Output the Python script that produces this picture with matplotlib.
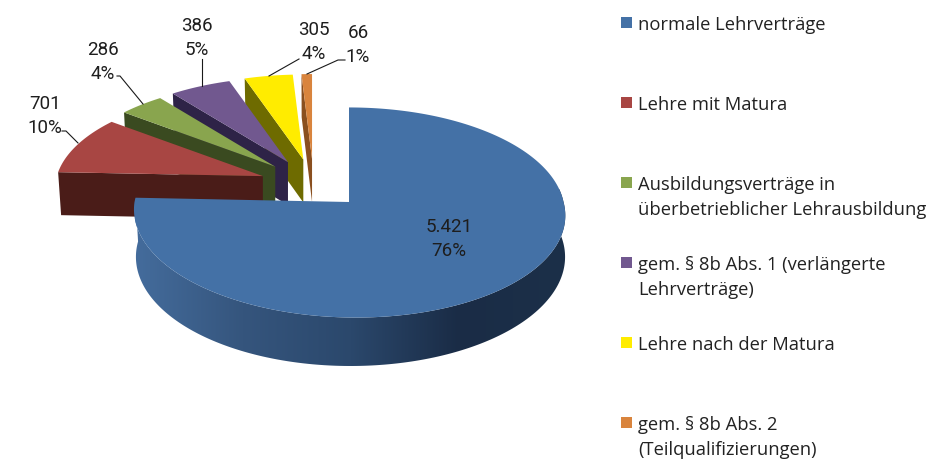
import numpy as np
import matplotlib
matplotlib.use('Agg')
import matplotlib.pyplot as plt
from matplotlib.colors import LinearSegmentedColormap
from matplotlib.patches import Rectangle, Polygon

plt.rcParams['font.family'] = ['Roboto', 'DejaVu Sans']

# data
categories = ['normale Lehrverträge', 'Lehre mit Matura',
              'Ausbildungsverträge in\nüberbetrieblicher Lehrausbildung',
              'gem. § 8b Abs. 1 (verlängerte\nLehrverträge)',
              'Lehre nach der Matura',
              'gem. § 8b Abs. 2\n(Teilqualifizierungen)']
values = [5421, 701, 286, 386, 305, 66]
colors = ['#4471A6', '#A84643', '#89A54E', '#71588F', '#FFEC00', '#D9843D']
side_colors = ['#1B2D48', '#4A1C18', '#3A4A20', '#2E2347', '#6E6B00', '#8A4F1F']

# layout of the fake 3d pie, in pixels
label_pos = [(449, 239), (45, 116), (103, 62), (197, 38), (314, 42), (358, 45)]
leaders = [None,
           [(62, 132), (66, 132), (78, 144)],
           [(117, 77), (120, 77), (143, 105)],
           [(202, 60), (202, 87)],
           [(299, 60), (269, 77)],
           [(345, 61), (338, 61), (307, 75)]]
legend_y = [24, 104, 184, 264, 344, 424]


def project(theta, cx, cy, rx, ry, k, shear=0.0):
    u = np.sin(theta)
    v = np.cos(theta)
    w = 1 / (1 + k * v)
    y = cy - ry * v * w
    # the front of the big slice leans a little to the right
    return cx + rx * u * w + shear * np.maximum(0, y - cy), y


fig = plt.figure(figsize=(9.28, 4.64), dpi=100)
ax = fig.add_axes([0, 0, 1, 1])

total = sum(values)
edges = np.radians(np.cumsum([0] + values) / total * 360)

# small slices are drawn back to front, red comes last
for i in range(len(values) - 1, 0, -1):
    a0, a1 = edges[i], edges[i + 1]
    mid = (a0 + a1) / 2
    ax_x = 313.6 + 54 * np.sin(mid)
    ax_y = 186 - 26 * np.cos(mid)
    th = np.linspace(a0, a1, 40)
    x, y = project(th, ax_x, ax_y, 206, 96, 0.13)
    xb, yb = project(a0, ax_x, ax_y + 43, 203, 96, 0.13)
    # the cut face that looks to the viewer
    ax.fill([ax_x, x[0], xb, ax_x], [ax_y, y[0], yb, ax_y + 43],
            color=side_colors[i], lw=0, zorder=2 * (7 - i))
    ax.fill(np.r_[ax_x, x], np.r_[ax_y, y], color=colors[i], lw=0, zorder=2 * (7 - i) + 1)

# big slice
th = np.linspace(np.radians(80), edges[1], 200)
xt, yt = project(th, 349, 203, 214.5, 104, 0.1, 0.06)
xb, yb = project(th, 350.5, 247, 213.5, 108, 0.1)
side = Polygon(np.c_[np.r_[xt, xb[::-1]], np.r_[yt, yb[::-1]]], closed=True,
               transform=ax.transData, lw=0, fc='none')
ax.add_patch(side)
cmap = LinearSegmentedColormap.from_list('side', ['#446C9C', '#35557D', '#2B486C', '#1A2C46', '#1C3049'])
im = ax.imshow(np.linspace(0, 1, 256)[None, :], cmap=cmap, extent=(135, 567, 375, 190),
               aspect='auto', zorder=20)
im.set_clip_path(side)

th = np.linspace(edges[0], edges[1], 300)
x, y = project(th, 349, 203, 214.5, 104, 0.1, 0.06)
ax.fill(np.r_[349, x], np.r_[203, y], color=colors[0], lw=0, zorder=21)

# labels and leader lines
for i, v in enumerate(values):
    txt = f"{v:,}".replace(",", ".") + f"\n{round(v / total * 100)}%"
    ax.text(label_pos[i][0], label_pos[i][1], txt, ha='center', va='center', fontsize=13.5,
            color='#1E1E1E', linespacing=1.47, zorder=30)
    if leaders[i]:
        ax.plot(*zip(*leaders[i]), color='#1A1A1A', lw=0.8, zorder=25)

# legend
for name, c, ly in zip(categories, colors, legend_y):
    ax.add_patch(Rectangle((621, ly - 6), 11, 11, color=c, lw=0))
    ax.text(638, ly + 1, name.split('\n')[0], va='center', fontsize=13.2, color='#222222',
            family=['Open Sans', 'DejaVu Sans'])
    if '\n' in name:
        ax.text(638, ly + 26, name.split('\n')[1], va='center', fontsize=13.2, color='#222222',
                family=['Open Sans', 'DejaVu Sans'])

ax.set_xlim(0, 928)
ax.set_ylim(464, 0)
ax.axis('off')
fig.savefig('out.png', dpi=100)
